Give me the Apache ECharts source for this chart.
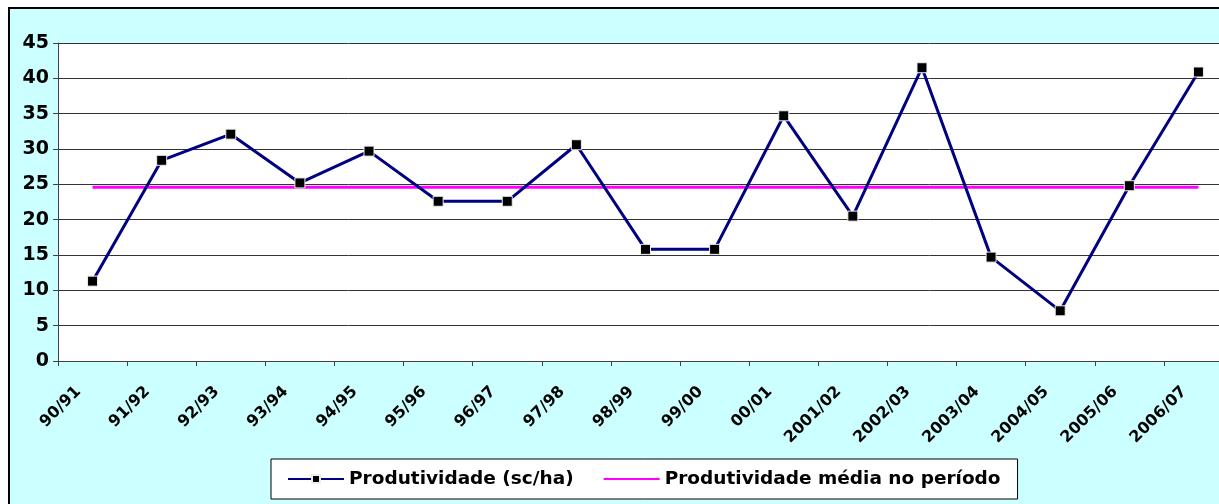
<!DOCTYPE html>
<html>
<head>
<meta charset="utf-8">
<script src="https://cdn.jsdelivr.net/npm/echarts@6/dist/echarts.min.js"></script>
<style>
html,body{margin:0;padding:0;background:#fff;}
#chart{width:1219px;height:504px;}
</style>
</head>
<body>
<div id="chart"></div>
<script>
const categories = ['90/91','91/92','92/93','93/94','94/95','95/96','96/97','97/98','98/99','99/00','00/01','2001/02','2002/03','2003/04','2004/05','2005/06','2006/07'];
const produtividade = [11.3, 28.4, 32.1, 25.2, 29.7, 22.6, 22.6, 30.6, 15.8, 15.8, 34.7, 20.5, 41.5, 14.7, 7.1, 24.8, 40.9];
const media = [24.6, 24.6, 24.6, 24.6, 24.6, 24.6, 24.6, 24.6, 24.6, 24.6, 24.6, 24.6, 24.6, 24.6, 24.6, 24.6, 24.6];
const yTicks = {min: 0, max: 45, interval: 5};
const seriesNames = ['Produtividade (sc/ha)', 'Produtividade média no período'];

const FONT = 'DejaVu Sans';
const chart = echarts.init(document.getElementById('chart'), null, {renderer: 'canvas'});
chart.setOption({
  animation: false,
  backgroundColor: '#fff',
  graphic: [{
    type: 'rect', z: -10, silent: true,
    shape: {x: 9, y: 8, width: 1300, height: 600},
    style: {fill: '#CCFFFF', stroke: '#000', lineWidth: 2}
  }],
  grid: {
    left: 58, top: 43, bottom: 143, width: 1175,
    containLabel: false, outerBoundsMode: 'none',
    show: true, backgroundColor: '#fff', borderWidth: 0
  },
  legend: {
    left: 271, top: 459,
    backgroundColor: '#fff', borderColor: '#000', borderWidth: 1,
    padding: [10, 17, 10, 16],
    itemWidth: 56, itemHeight: 10, itemGap: 29,
    textStyle: {fontFamily: FONT, fontWeight: 'bold', fontSize: 18.5, color: '#000', lineHeight: 20},
    data: [
      {name: seriesNames[0]},
      {name: seriesNames[1], itemStyle: {opacity: 0}}
    ]
  },
  xAxis: {
    type: 'category', data: categories, boundaryGap: true,
    axisLine: {lineStyle: {color: '#404040', width: 1}},
    axisTick: {show: true, alignWithLabel: false, length: 5, lineStyle: {color: '#404040'}},
    axisLabel: {interval: 0, rotate: 45, margin: 14, padding: [0, 20, 0, 0], fontFamily: FONT, fontWeight: 'bold', fontSize: 16, color: '#000'}
  },
  yAxis: {
    type: 'value', min: yTicks.min, max: yTicks.max, interval: yTicks.interval,
    axisLine: {show: true, lineStyle: {color: '#404040', width: 1}},
    axisTick: {show: true, length: 5, lineStyle: {color: '#404040'}},
    splitLine: {lineStyle: {color: '#333', width: 1}},
    axisLabel: {margin: 9, fontFamily: FONT, fontWeight: 'bold', fontSize: 19, color: '#000'}
  },
  series: [
    {
      name: seriesNames[0], type: 'line', data: produtividade, z: 3,
      symbol: 'rect', symbolSize: 10,
      lineStyle: {color: '#000080', width: 3},
      itemStyle: {color: '#000', borderColor: '#eee', borderWidth: 1}
    },
    {
      name: seriesNames[1], type: 'line', data: media, z: 2,
      symbol: 'none', showSymbol: false,
      lineStyle: {color: '#FF00FF', width: 3},
      itemStyle: {color: '#FF00FF'}
    }
  ]
});
</script>
</body>
</html>
